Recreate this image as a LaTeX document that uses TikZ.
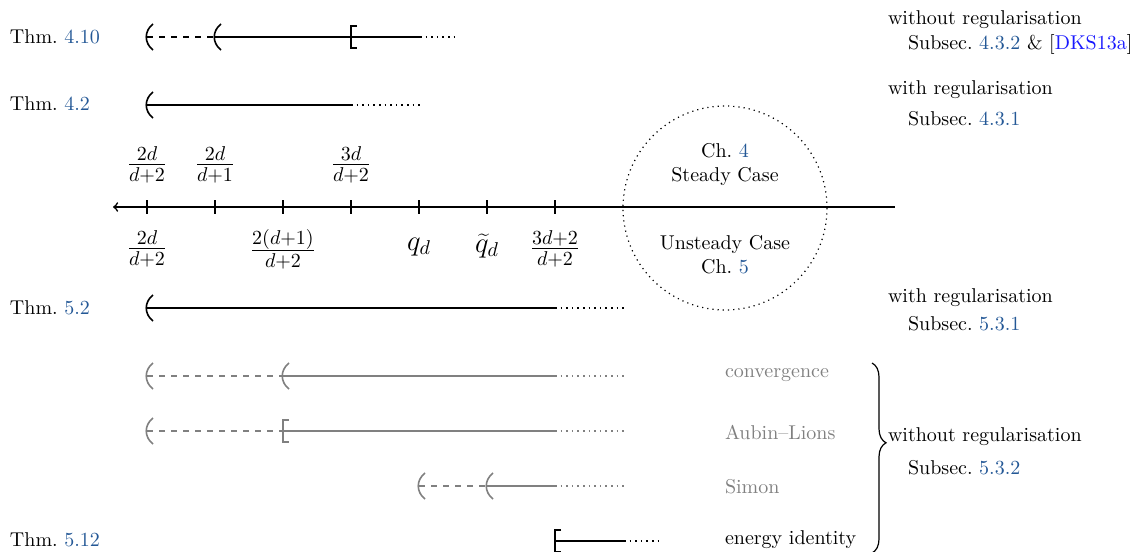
\documentclass[tikz,border=0pt]{standalone}
\usetikzlibrary{decorations.pathreplacing}
\definecolor{refblue}{RGB}{36,88,150}
\definecolor{citeblue}{RGB}{25,25,255}
\definecolor{faded}{RGB}{128,128,128}

\begin{document}
\begin{tikzpicture}[x=0.5pt,y=-0.5pt,
  every node/.style={inner sep=0pt,outer sep=0pt},
  lbl/.style={anchor=west},
  ctr/.style={align=center},
  val/.style={font=\Large},
  solidpart/.style={thick},
  openpart/.style={thick,dashed},
  tailpart/.style={thick,dotted},
  lparen/.pic={\draw[thick] (6,-13) .. controls (-3,-6) and (-3,6) .. (6,13);},
  lbrack/.pic={\draw[thick] (6,-11) -- (0,-11) -- (0,11) -- (6,11);},
]
\useasboundingbox (0,0) rectangle (1143,551);

% ---- number line ----
\coordinate (axL) at (113,207);
\coordinate (axR) at (895,207);
\draw[thick,<-] (axL) -- (axR);
\foreach \i/\x in {1/147,2/215,3/283,4/351,5/419,6/487,7/555}{
  \coordinate (t\i) at (\x,207);
  \draw[thick] (\x,200) -- (\x,214);
}
\node[val] (a1) at (147,165) {$\frac{2d}{d+2}$};
\node[val] (a2) at (215,165) {$\frac{2d}{d+1}$};
\node[val] (a4) at (351,165) {$\frac{3d}{d+2}$};
\node[val] (b1) at (147,249) {$\frac{2d}{d+2}$};
\node[val] (b3) at (283,249) {$\frac{2(d+1)}{d+2}$};
\node[val] (b5) at (419,247) {$q_d$};
\node[val] (b6) at (487,246) {$\widetilde{q}_d$};
\node[val] (b7) at (555,249) {$\frac{3d+2}{d+2}$};

% ---- steady / unsteady circle ----
\node[draw,semithick,dotted,circle,minimum size=102pt] (split) at (725,208) {};
\node[ctr] (steady) at (725,164) {Ch.~\textcolor{refblue}{4}\\Steady Case};
\node[ctr] (unsteady) at (725,255) {Unsteady Case\\Ch.~\textcolor{refblue}{5}};

% ---- Thm 4.10 ----
\node[lbl] (thmA) at (10,37) {Thm.~\textcolor{refblue}{4.10}};
\coordinate (A1) at (147,37); \coordinate (A2) at (215,37);
\coordinate (A3) at (351,37); \coordinate (A4) at (420,37);
\coordinate (A5) at (455,37);
\draw[openpart] (A1) -- (A2);
\draw[solidpart] (A2) -- (A3) -- (A4);
\draw[tailpart] (A4) -- (A5);
\pic at (A1) {lparen}; \pic at (A2) {lparen}; \pic at (A3) {lbrack};

% ---- Thm 4.2 ----
\node[lbl] (thmB) at (10,104) {Thm.~\textcolor{refblue}{4.2}};
\coordinate (B1) at (147,105); \coordinate (B2) at (351,105);
\coordinate (B3) at (420,105);
\draw[solidpart] (B1) -- (B2);
\draw[tailpart] (B2) -- (B3);
\pic at (B1) {lparen};

% ---- Thm 5.2 ----
\node[lbl] (thmC) at (10,308) {Thm.~\textcolor{refblue}{5.2}};
\coordinate (C1) at (147,308); \coordinate (C2) at (555,308);
\coordinate (C3) at (624,308);
\draw[solidpart] (C1) -- (C2);
\draw[tailpart] (C2) -- (C3);
\pic at (C1) {lparen};

% ---- grey rows ----
\begin{scope}[color=faded]
\coordinate (D1) at (147,376); \coordinate (D2) at (283,376);
\coordinate (D3) at (555,376); \coordinate (D4) at (624,376);
\draw[openpart] (D1) -- (D2);
\draw[solidpart] (D2) -- (D3);
\draw[tailpart] (D3) -- (D4);
\pic at (D1) {lparen}; \pic at (D2) {lparen};

\coordinate (E1) at (147,431); \coordinate (E2) at (283,431);
\coordinate (E3) at (555,431); \coordinate (E4) at (624,431);
\draw[openpart] (E1) -- (E2);
\draw[solidpart] (E2) -- (E3);
\draw[tailpart] (E3) -- (E4);
\pic at (E1) {lparen}; \pic at (E2) {lbrack};

\coordinate (F1) at (419,486); \coordinate (F2) at (487,486);
\coordinate (F3) at (555,486); \coordinate (F4) at (624,486);
\draw[openpart] (F1) -- (F2);
\draw[solidpart] (F2) -- (F3);
\draw[tailpart] (F3) -- (F4);
\pic at (F1) {lparen}; \pic at (F2) {lparen};
\end{scope}
\node[lbl,text=faded] (conv) at (725,375) {convergence};
\node[lbl,text=faded] (aubin) at (725,432) {Aubin--Lions};
\node[lbl,text=faded] (simon) at (725,487) {Simon};

% ---- Thm 5.12 ----
\node[lbl] (thmG) at (10,540) {Thm.~\textcolor{refblue}{5.12}};
\coordinate (G1) at (555,541); \coordinate (G2) at (624,541);
\coordinate (G3) at (662,541);
\draw[solidpart] (G1) -- (G2);
\draw[tailpart] (G2) -- (G3);
\pic at (G1) {lbrack};
\node[lbl] (energy) at (725,540) {energy identity};

% ---- remarks on the right ----
\node[lbl] (r1) at (888,20) {without regularisation};
\node[lbl] (r1s) at (908,45) {Subsec.~\textcolor{refblue}{4.3.2} \& [\textcolor{citeblue}{DKS13a}]};
\node[lbl] (r2) at (888,90) {with regularisation};
\node[lbl] (r2s) at (908,119) {Subsec.~\textcolor{refblue}{4.3.1}};
\node[lbl] (r3) at (888,298) {with regularisation};
\node[lbl] (r3s) at (908,324) {Subsec.~\textcolor{refblue}{5.3.1}};
\coordinate (brT) at (872,363);
\coordinate (brB) at (872,553);
\draw[semithick,decorate,decoration={brace,amplitude=7pt,aspect=0.42}] (brT) -- (brB);
\node[lbl] (r4) at (888,437) {without regularisation};
\node[lbl] (r4s) at (908,468) {Subsec.~\textcolor{refblue}{5.3.2}};
\end{tikzpicture}
\end{document}
